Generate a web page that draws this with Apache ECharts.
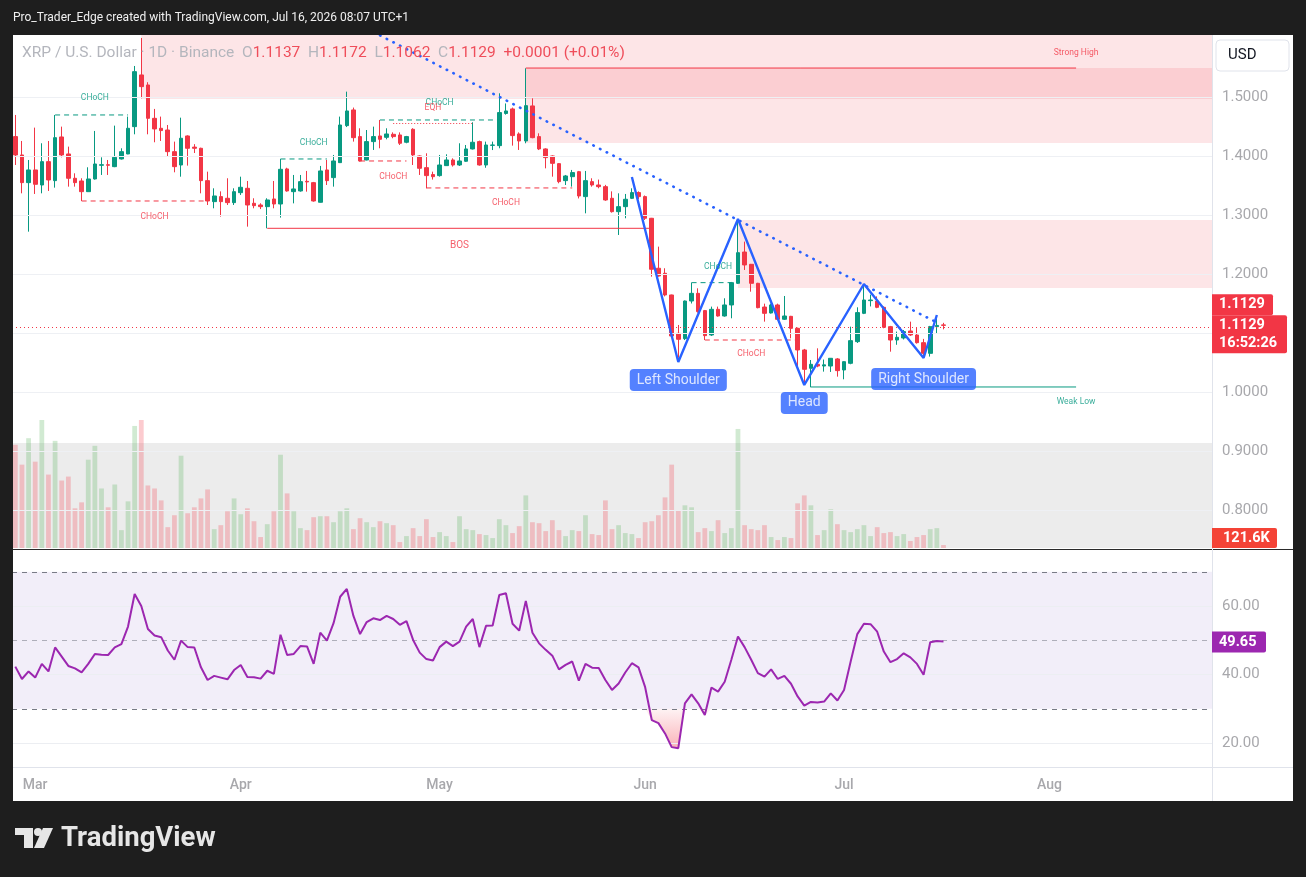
<!DOCTYPE html>
<html><head><meta charset="utf-8">
<script src="https://cdn.jsdelivr.net/npm/echarts@6/dist/echarts.min.js"></script>
<style>html,body{margin:0;padding:0;background:#1e1e1e}#c{width:1306px;height:877px}</style>
</head><body><div id="c"></div>
<script>
// ---------- DATA ----------
const firstDay = '2026-02-26';
const slotCount = 181;
const opens = [1.4328,1.4017,1.3548,1.3763,1.3508,1.3904,1.3582,1.4322,1.4034,1.3622,
1.3576,1.3395,1.3610,1.3842,1.3852,1.3819,1.3949,1.4034,1.4497,1.5373,
1.5203,1.4638,1.4469,1.4440,1.4073,1.3847,1.4339,1.4150,1.4130,1.3582,
1.3226,1.3311,1.3283,1.3209,1.3378,1.3452,1.3198,1.3169,1.3141,1.3271,
1.3186,1.3780,1.3395,1.3407,1.3570,1.3548,1.3215,1.3763,1.3633,1.3887,
1.4514,1.4780,1.4328,1.3932,1.4243,1.4339,1.4316,1.4367,1.4356,1.4232,
1.4452,1.4000,1.3802,1.3685,1.3667,1.3836,1.3932,1.3847,1.3910,1.4119,
1.4243,1.3847,1.4180,1.4175,1.4720,1.4797,1.4373,1.4254,1.4848,1.4328,
1.4119,1.4000,1.3870,1.3582,1.3649,1.3734,1.3311,1.3565,1.3508,1.3480,
1.3283,1.3056,1.3141,1.3282,1.3379,1.3311,1.2944,1.2097,1.2012,1.1644,
1.0994,1.0904,1.1542,1.1672,1.1379,1.0966,1.1401,1.1288,1.1475,1.1842,
1.2372,1.2164,1.1842,1.1440,1.1339,1.1475,1.1232,1.1282,1.1079,1.0712,
1.0401,1.0469,1.0440,1.0440,1.0560,1.0373,1.0486,1.0853,1.1333,1.1548,
1.1540,1.1435,1.1107,1.0881,1.0915,1.1034,1.0966,1.0836,1.0655,1.1107,
1.1137];
const highs = [1.4695,1.4254,1.3932,1.4480,1.4215,1.4254,1.4695,1.4497,1.4158,1.3706,
1.3622,1.3808,1.4424,1.3977,1.3932,1.4514,1.4130,1.4667,1.5525,1.6000,
1.5250,1.4797,1.4667,1.4525,1.4243,1.4649,1.4350,1.4200,1.4140,1.3734,
1.3452,1.3400,1.3622,1.3452,1.3649,1.3576,1.3283,1.3198,1.3283,1.3576,
1.3949,1.3800,1.3678,1.3678,1.3746,1.3560,1.3831,1.3932,1.4017,1.4667,
1.5090,1.4820,1.4469,1.4440,1.4497,1.4610,1.4469,1.4400,1.4400,1.4340,
1.4470,1.4010,1.4045,1.3734,1.4017,1.4028,1.3960,1.4215,1.4186,1.4571,
1.4260,1.4243,1.4243,1.5062,1.4890,1.4820,1.4400,1.5486,1.4977,1.4384,
1.4130,1.4010,1.3880,1.3678,1.3763,1.3746,1.3746,1.3622,1.3600,1.3510,
1.3400,1.3367,1.3356,1.3452,1.3400,1.3330,1.2950,1.2463,1.2097,1.1650,
1.1136,1.1550,1.1853,1.1757,1.1390,1.1447,1.1447,1.1588,1.1865,1.2915,
1.2548,1.2170,1.1850,1.1497,1.1497,1.1497,1.1627,1.1290,1.1090,1.0730,
1.0542,1.0740,1.0550,1.0575,1.0575,1.0520,1.1107,1.1435,1.1814,1.1650,
1.1620,1.1450,1.1120,1.1023,1.1050,1.1192,1.1100,1.0900,1.1120,1.1305,
1.1172];
const lows = [1.3847,1.3367,1.2717,1.3356,1.3367,1.3407,1.3463,1.3977,1.3480,1.3480,
1.3237,1.3390,1.3600,1.3678,1.3678,1.3810,1.3940,1.4030,1.4367,1.4977,
1.4367,1.4232,1.4254,1.3989,1.3723,1.3649,1.3836,1.4050,1.3367,1.3169,
1.3113,1.2972,1.3169,1.3169,1.3339,1.2802,1.3113,1.3100,1.2774,1.3113,
1.2955,1.3395,1.3197,1.3395,1.3395,1.3226,1.3210,1.3508,1.3480,1.3880,
1.4490,1.4243,1.3904,1.3925,1.4102,1.4130,1.4282,1.4300,1.4186,1.4215,
1.3847,1.3678,1.3452,1.3600,1.3650,1.3830,1.3820,1.3830,1.3900,1.4110,
1.3836,1.3800,1.4100,1.4130,1.4700,1.4175,1.4102,1.4215,1.4300,1.4100,
1.3790,1.3649,1.3537,1.3508,1.3480,1.3280,1.3028,1.3480,1.3452,1.3240,
1.3040,1.2661,1.2944,1.3270,1.3270,1.2915,1.1955,1.1955,1.1620,1.0940,
1.0580,1.0880,1.1500,1.1345,1.0881,1.0950,1.1277,1.1277,1.1249,1.1830,
1.2068,1.1700,1.1418,1.1192,1.1330,1.1220,1.1220,1.0910,1.0401,1.0119,
1.0080,1.0420,1.0345,1.0340,1.0260,1.0215,1.0470,1.0830,1.1320,1.1450,
1.1420,1.1080,1.0683,1.0800,1.0890,1.0950,1.0820,1.0599,1.0600,1.0994,
1.1062];
const closes = [1.4017,1.3548,1.3763,1.3520,1.3904,1.3593,1.4310,1.4017,1.3622,1.3548,
1.3395,1.3610,1.3864,1.3852,1.3842,1.3977,1.4073,1.4469,1.5429,1.5175,
1.4638,1.4458,1.4430,1.4073,1.3819,1.4300,1.4130,1.4130,1.3582,1.3237,
1.3322,1.3226,1.3209,1.3395,1.3469,1.3169,1.3158,1.3141,1.3254,1.3186,
1.3774,1.3407,1.3441,1.3565,1.3560,1.3237,1.3746,1.3582,1.3915,1.4525,
1.4763,1.4310,1.3915,1.4243,1.4328,1.4282,1.4373,1.4328,1.4215,1.4328,
1.4017,1.3791,1.3667,1.3649,1.3847,1.3932,1.3847,1.3915,1.4119,1.4232,
1.3847,1.4186,1.4186,1.4735,1.4763,1.4345,1.4254,1.4853,1.4310,1.4119,
1.3972,1.3875,1.3565,1.3661,1.3718,1.3322,1.3582,1.3508,1.3480,1.3254,
1.3056,1.3141,1.3266,1.3379,1.3311,1.2944,1.2080,1.1966,1.1644,1.0949,
1.0893,1.1542,1.1672,1.1362,1.0955,1.1401,1.1288,1.1475,1.1853,1.2361,
1.2153,1.1842,1.1429,1.1333,1.1475,1.1232,1.1288,1.1079,1.0712,1.0384,
1.0469,1.0440,1.0460,1.0571,1.0362,1.0514,1.0870,1.1345,1.1559,1.1559,
1.1435,1.1096,1.0881,1.0927,1.1023,1.0966,1.0836,1.0655,1.1107,1.1128,
1.1129];
// volume in thousands
const volumes = [4212,3402,4482,3524,5225,2997,4374,2754,2916,1620,
1863,3605,4172,2430,1661,2592,729,1904,4982,5225,
2552,2430,1944,851,1337,3767,1418,1661,2025,2390,
770,932,1499,2025,1377,1620,1094,446,972,1499,
3807,2228,1499,810,729,1256,1296,1296,1053,1499,
1620,770,1215,1053,851,1094,1013,932,243,486,
810,486,1175,446,648,486,243,1296,770,729,
567,527,405,1175,932,608,891,2147,1053,1013,
689,1134,729,486,729,689,1337,567,527,1944,
770,932,608,567,405,1053,1094,1337,2066,3402,
1539,1742,1661,648,810,689,1134,608,810,4860,
932,770,729,932,446,324,446,405,1823,2147,
1742,527,729,1580,972,729,648,770,932,486,
851,608,648,486,567,284,446,527,770,810,
121.6];
const rsiValues = [42.3,38.7,40.9,39.1,43.1,40.9,47.9,45.2,42.5,41.8,
40.6,43.1,46.0,45.8,45.7,47.9,48.9,54.0,63.5,60.0,
53.3,51.4,50.9,47.0,44.3,49.9,48.0,47.9,42.1,38.4,
39.6,39.1,38.6,41.3,42.8,39.3,39.2,38.8,41.1,40.2,
51.6,45.7,46.0,48.3,48.2,43.1,52.2,49.9,55.0,62.7,
65.0,57.1,51.8,55.3,56.4,55.9,57.1,56.2,54.5,55.6,
50.1,46.4,44.5,44.1,48.0,49.6,48.3,49.6,54.0,56.2,
48.0,54.2,54.3,63.2,63.7,54.8,52.8,61.5,52.2,49.1,
47.2,45.5,41.5,42.8,43.8,38.2,43.1,42.0,41.9,38.4,
35.5,37.4,40.6,43.3,42.1,36.3,26.7,25.8,22.8,18.8,
18.5,31.6,34.2,31.6,28.2,36.2,35.0,37.9,44.3,51.1,
48.0,44.3,40.4,39.4,41.5,38.7,39.6,37.3,33.6,30.9,
32.0,31.8,32.1,34.5,32.4,35.5,43.8,51.8,54.8,54.7,
52.5,46.7,43.6,44.5,46.2,45.0,43.1,39.9,49.4,49.8,
49.65];
const priceTicks = [0.8,0.9,1.0,1.1,1.2,1.3,1.4,1.5];
const rsiTicks = [20,40,60];
const rsiBands = [30,50,70];
const monthNames = {'03':'Mar','04':'Apr','05':'May','06':'Jun','07':'Jul','08':'Aug'};
// supply / demand zones (bar index where they start, price bounds)
const zones = [
  {from:19, top:1.605, bottom:1.4966},
  {from:77, top:1.549, bottom:1.422},
  {from:109, top:1.2915, bottom:1.1763}
];
// market structure lines
const structureLines = [
  {from:6, to:17, price:1.4695, kind:'bull'},
  {from:10, to:29, price:1.3237, kind:'bear'},
  {from:38, to:96, price:1.2774, kind:'bos'},
  {from:40, to:47, price:1.3949, kind:'bull'},
  {from:52, to:59, price:1.3915, kind:'bear'},
  {from:55, to:73, price:1.461, kind:'bull'},
  {from:57, to:69, price:1.455, kind:'eqh'},
  {from:62, to:84, price:1.3458, kind:'bear'},
  {from:102, to:108, price:1.1853, kind:'bull'},
  {from:104, to:118, price:1.0881, kind:'bear'},
  {from:120, to:160, price:1.0085, kind:'weak'},
  {from:77, to:160, price:1.549, kind:'strong'}
];
const structureLabels = [
  {text:'CHoCH', bar:12, price:1.4983, kind:'bull'},
  {text:'CHoCH', bar:21, price:1.2966, kind:'bear'},
  {text:'BOS', bar:67, price:1.2475, kind:'bos'},
  {text:'CHoCH', bar:45, price:1.422, kind:'bull'},
  {text:'CHoCH', bar:57, price:1.3644, kind:'bear'},
  {text:'CHoCH', bar:64, price:1.4898, kind:'bull'},
  {text:'EQH', bar:63, price:1.4814, kind:'eqh'},
  {text:'CHoCH', bar:74, price:1.3203, kind:'bear'},
  {text:'CHoCH', bar:106, price:1.2119, kind:'bull'},
  {text:'CHoCH', bar:111, price:1.0644, kind:'bear'},
  {text:'Strong High', bar:160, price:1.5746, kind:'strong'},
  {text:'Weak Low', bar:160, price:0.9831, kind:'weak'}
];
const hsPoints = [[93,1.3644],[100,1.0508],[109,1.2932],[119,1.0119],[128,1.183],[137,1.0576],[139,1.1305]];
const hsLabels = [
  {text:'Left Shoulder', bar:100, price:1.0203},
  {text:'Head', bar:119, price:0.9814},
  {text:'Right Shoulder', bar:137, price:1.022}
];
const trendPoints = [[53,1.616],[139,1.1177]];
const symbolTitle = 'XRP / U.S. Dollar · 1D · Binance';
const countdown = '16:52:26';
const volumeLabel = '121.6K';
const headerText = 'Pro_Trader_Edge created with TradingView.com, Jul 16, 2026 08:07 UTC+1';

// ---------- BUILD ----------
const cats = [];
{
  const p = firstDay.split('-').map(Number);
  for (let i = 0; i < slotCount; i++) {
    const d = new Date(Date.UTC(p[0], p[1]-1, p[2]+i));
    cats.push(d.toISOString().slice(0,10));
  }
}
const GREEN = '#089981', RED = '#f23645', BLUE = '#2962ff', PURPLE = '#9c27b0';
const FONT = 'Roboto, "Noto Sans", sans-serif';
const AXIS_TXT = '#a8a8ac';
const n = closes.length;
const last = n - 1;
const candleData = opens.map((o,i)=>[o, closes[i], lows[i], highs[i]]);
const volData = volumes.map((v,i)=>({value:v, itemStyle:{color: closes[i] >= opens[i] ? 'rgba(76,175,80,0.26)' : 'rgba(242,54,69,0.26)'}}));

const kindStyle = {
  bull: {color:GREEN, type:[5,4], width:1, font:8.5},
  bear: {color:RED, type:[5,4], width:1, font:8.5},
  bos: {color:RED, type:'solid', width:1, font:10},
  eqh: {color:RED, type:[1,2], width:1, font:8.5},
  weak: {color:GREEN, type:'solid', width:1, font:8.5},
  strong: {color:RED, type:'solid', width:1, font:8.5}
};

const series = [];
// zones + price grid lines (behind)
series.push({
  type:'line', xAxisIndex:0, yAxisIndex:0, data:[], z:0, silent:true,
  markArea:{silent:true, itemStyle:{color:'rgba(242,54,69,0.13)'},
    data: zones.map(zn => [{xAxis:cats[zn.from], yAxis:zn.top},{yAxis:zn.bottom}])},
  markLine:{silent:true, symbol:'none', label:{show:false}, lineStyle:{color:'#eef0f4', type:'solid', width:1},
    data: priceTicks.map(v=>({yAxis:v}))}
});
// volume band + bars
series.push({
  type:'line', xAxisIndex:1, yAxisIndex:1, data:[], z:0, silent:true,
  markArea:{silent:true, itemStyle:{color:'rgba(0,0,0,0.075)'}, data:[[{yAxis:0},{yAxis:4286}]]}
});
series.push({type:'bar', xAxisIndex:1, yAxisIndex:1, data:volData, barWidth:'72%', z:1, silent:true});
// candles
series.push({
  type:'candlestick', xAxisIndex:0, yAxisIndex:0, data:candleData, z:3, barWidth:'62%',
  itemStyle:{color:GREEN, color0:RED, borderColor:GREEN, borderColor0:RED, borderWidth:1},
  markLine:{silent:true, symbol:'none', label:{show:false}, lineStyle:{color:RED, type:[1,3], width:1},
    data:[{yAxis:closes[last]}]}
});
// structure lines
structureLines.forEach(l => {
  const st = kindStyle[l.kind];
  series.push({type:'line', xAxisIndex:0, yAxisIndex:0, z:4, silent:true, symbol:'none',
    lineStyle:{color:st.color, type:st.type, width:st.width},
    data:[[cats[l.from], l.price],[cats[l.to], l.price]]});
});
// trendline (dotted)
series.push({type:'line', xAxisIndex:0, yAxisIndex:0, z:5, silent:true, symbol:'none', clip:true,
  lineStyle:{color:BLUE, type:[0.5,7], width:2.6, cap:'round'},
  data: trendPoints.map(p=>[cats[p[0]], p[1]])});
// head & shoulders zigzag
series.push({type:'line', xAxisIndex:0, yAxisIndex:0, z:6, silent:true, symbol:'none',
  lineStyle:{color:BLUE, width:2.4},
  data: hsPoints.map(p=>[cats[p[0]], p[1]])});
// structure labels
series.push({type:'scatter', xAxisIndex:0, yAxisIndex:0, z:7, silent:true, symbolSize:1,
  itemStyle:{color:'rgba(0,0,0,0)'},
  data: structureLabels.map(l => ({value:[cats[l.bar], l.price],
    label:{show:true, position:'inside', formatter:l.text, color:kindStyle[l.kind].color,
      fontSize:kindStyle[l.kind].font, fontFamily:FONT}}))});
// pattern labels
series.push({type:'scatter', xAxisIndex:0, yAxisIndex:0, z:8, silent:true, symbolSize:1,
  itemStyle:{color:'rgba(0,0,0,0)'},
  label:{show:true, position:'inside', color:'#ffffff', fontSize:14, fontFamily:FONT,
    backgroundColor:BLUE, borderRadius:4, padding:[4,7], lineHeight:14},
  data: hsLabels.map(l => ({value:[cats[l.bar], l.price], label:{formatter:l.text}}))});
// RSI band
series.push({type:'line', xAxisIndex:2, yAxisIndex:2, data:[], z:0, silent:true,
  markArea:{silent:true, itemStyle:{color:'rgba(126,87,194,0.1)'}, data:[[{yAxis:rsiBands[0]},{yAxis:rsiBands[2]}]]},
  markLine:{silent:true, symbol:'none', label:{show:false},
    data:[
      ...rsiTicks.map(v=>({yAxis:v, lineStyle:{color:'#eceef2', type:'solid', width:1}})),
      {yAxis:rsiBands[0], lineStyle:{color:'#787b86', type:[5,5], width:1}},
      {yAxis:rsiBands[1], lineStyle:{color:'rgba(120,123,134,0.55)', type:[5,5], width:1}},
      {yAxis:rsiBands[2], lineStyle:{color:'#787b86', type:[5,5], width:1}}
    ]}
});
// oversold fill (stacked between RSI and 30)
const osBase = rsiValues.map((v,i)=>{
  const near = v < 30 || (i>0 && rsiValues[i-1] < 30) || (i<n-1 && rsiValues[i+1] < 30);
  return near ? Math.min(v, 30) : '-';
});
const osFill = osBase.map(v => v === '-' ? '-' : +(30 - v).toFixed(2));
series.push({type:'line', xAxisIndex:2, yAxisIndex:2, data:osBase, stack:'os', symbol:'none', silent:true, z:1,
  lineStyle:{opacity:0, width:0}});
series.push({type:'line', xAxisIndex:2, yAxisIndex:2, data:osFill, stack:'os', symbol:'none', silent:true, z:1,
  lineStyle:{opacity:0, width:0},
  areaStyle:{opacity:1, color:new echarts.graphic.LinearGradient(0,0,0,1,[
    {offset:0, color:'rgba(242,54,69,0.06)'},{offset:1, color:'rgba(242,54,69,0.38)'}])}});
// RSI line
series.push({type:'line', xAxisIndex:2, yAxisIndex:2, data:rsiValues, symbol:'none', silent:true, z:5,
  lineStyle:{color:PURPLE, width:2}});

const gridL = 12, gridR = 94;
const option = {
  backgroundColor:'#ffffff',
  animation:false,
  textStyle:{fontFamily:FONT},
  grid:[
    {left:gridL, right:gridR, top:35, bottom:329, outerBoundsMode:'none'},
    {left:gridL, right:gridR, top:420, bottom:329, outerBoundsMode:'none'},
    {left:gridL, right:gridR, top:550, bottom:110, outerBoundsMode:'none'}
  ],
  xAxis:[
    {type:'category', gridIndex:0, data:cats, boundaryGap:true, axisLine:{show:false}, axisTick:{show:false}, axisLabel:{show:false}, splitLine:{show:false}},
    {type:'category', gridIndex:1, data:cats, boundaryGap:true, axisLine:{show:false}, axisTick:{show:false}, axisLabel:{show:false}, splitLine:{show:false}},
    {type:'category', gridIndex:2, data:cats, boundaryGap:true, axisLine:{show:false}, axisTick:{show:false}, splitLine:{show:false},
      axisLabel:{show:true, margin:11, color:AXIS_TXT, fontSize:14, fontFamily:FONT, fontWeight:500,
        interval:(idx, val) => val.slice(8) === '01' && !!monthNames[val.slice(5,7)],
        formatter:(val) => monthNames[val.slice(5,7)] || ''}}
  ],
  yAxis:[
    {type:'value', gridIndex:0, position:'right', min:0.7356, max:1.605, scale:true,
      axisLine:{show:false}, axisTick:{show:false}, splitLine:{show:false},
      axisLabel:{show:true, customValues:priceTicks, margin:10, color:AXIS_TXT, fontSize:15, fontFamily:FONT,
        verticalAlign:'middle', lineHeight:15, formatter:(v)=>Number(v).toFixed(4)}},
    {type:'value', gridIndex:1, min:0, max:5225, show:false, splitLine:{show:false}},
    {type:'value', gridIndex:2, position:'right', min:13.0, max:76.35,
      axisLine:{show:false}, axisTick:{show:false}, splitLine:{show:false},
      axisLabel:{show:true, customValues:rsiTicks, margin:10, color:AXIS_TXT, fontSize:15, fontFamily:FONT,
        verticalAlign:'middle', lineHeight:15, formatter:(v)=>Number(v).toFixed(2)}}
  ],
  series
};

const chart = echarts.init(document.getElementById('c'), null, {width:1306, height:877});
chart.setOption(option);

// ---------- chrome + axis badges ----------
const pyLast = chart.convertToPixel({yAxisIndex:0}, closes[last]);
let pyVol = chart.convertToPixel({yAxisIndex:1}, volumes[last]);
pyVol = Math.min(pyVol, 548 - 10);
const pyRsi = chart.convertToPixel({yAxisIndex:2}, rsiValues[last]);
const axX = 1306 - gridR;
const fmt = v => v.toFixed(4);
const prevClose = closes[last-1];
const chg = closes[last] - prevClose;
const chgTxt = (chg >= 0 ? '+' : '') + chg.toFixed(4) + ' (' + (chg >= 0 ? '+' : '') + (chg/prevClose*100).toFixed(2) + '%)';

function txt(x, y, text, o) {
  return Object.assign({type:'text', x:x, y:y, silent:true, z:o.z||50,
    style:Object.assign({text:text, fill:o.fill||'#fff', font:o.font, align:o.align||'left', textAlign:o.align||'left',
      verticalAlign:'middle', textVerticalAlign:'middle'}, o.style||{})});
}
const graphics = [
  // dark frame
  {type:'rect', shape:{x:0,y:0,width:1306,height:35}, style:{fill:'#1e1e1e'}, z:90, silent:true},
  {type:'rect', shape:{x:0,y:801,width:1306,height:76}, style:{fill:'#1e1e1e'}, z:90, silent:true},
  {type:'rect', shape:{x:0,y:0,width:13,height:877}, style:{fill:'#1e1e1e'}, z:90, silent:true},
  {type:'rect', shape:{x:1293,y:0,width:13,height:877}, style:{fill:'#1e1e1e'}, z:90, silent:true},
  txt(13, 18, headerText, {font:'12px ' + FONT, fill:'#f0f0f0', z:95}),
  // TradingView logo
  {type:'rect', shape:{x:15,y:828,width:18,height:7}, style:{fill:'#e6e6e6'}, z:95, silent:true},
  {type:'rect', shape:{x:24,y:828,width:9,height:20}, style:{fill:'#e6e6e6'}, z:95, silent:true},
  {type:'circle', shape:{cx:38,cy:832,r:4}, style:{fill:'#e6e6e6'}, z:95, silent:true},
  {type:'polygon', shape:{points:[[43,828],[53,828],[44,848],[34,848]]}, style:{fill:'#e6e6e6'}, z:95, silent:true},
  txt(61, 839, 'TradingView', {font:'bold 27.5px ' + FONT, fill:'#e6e6e6', z:95}),
  // pane separators
  {type:'line', shape:{x1:13,y1:549.5,x2:1293,y2:549.5}, style:{stroke:'#2a2a2a', lineWidth:1}, z:40, silent:true},
  {type:'line', shape:{x1:axX+0.5,y1:35,x2:axX+0.5,y2:801}, style:{stroke:'#e0e3eb', lineWidth:1}, z:40, silent:true},
  {type:'line', shape:{x1:13,y1:767.5,x2:1293,y2:767.5}, style:{stroke:'#e0e3eb', lineWidth:1}, z:40, silent:true},
  // USD box
  {type:'rect', shape:{x:axX+4,y:40,width:73,height:31,r:4}, style:{fill:'#ffffff', stroke:'#e0e3eb', lineWidth:1}, z:45, silent:true},
  txt(axX+16, 55.5, 'USD', {font:'15px ' + FONT, fill:'#131722', z:46}),
  // legend line
  {type:'text', x:22, y:53, silent:true, z:50, style:{
    text:'{t|' + symbolTitle + '}  {k|O}{v|' + fmt(opens[last]) + '}  {k|H}{v|' + fmt(highs[last]) + '}  {k|L}{v|' + fmt(lows[last]) + '}  {k|C}{v|' + fmt(closes[last]) + '}  {v|' + chgTxt + '}',
    verticalAlign:'middle', textVerticalAlign:'middle', font:'15.5px ' + FONT,
    rich:{t:{fill:'#b4b6bd', fontSize:15.5, fontFamily:FONT},
          k:{fill:'#b4b6bd', fontSize:15.5, fontFamily:FONT},
          v:{fill:'#ef4d5a', fontSize:15.5, fontFamily:FONT}}}},
  // price badges
  {type:'rect', shape:{x:axX,y:pyLast-31,width:61,height:21,r:[0,2,2,0]}, style:{fill:RED}, z:60, silent:true},
  txt(axX+7, pyLast-20.5, fmt(closes[last]), {font:'bold 14.5px ' + FONT, fill:'#fff', z:61}),
  {type:'rect', shape:{x:axX,y:pyLast-10,width:75,height:38,r:[0,2,2,0]}, style:{fill:RED}, z:60, silent:true},
  txt(axX+7, pyLast, fmt(closes[last]), {font:'bold 14.5px ' + FONT, fill:'#fff', z:61}),
  txt(axX+7, pyLast+18, countdown, {font:'bold 14.5px ' + FONT, fill:'#fff', z:61}),
  // volume badge
  {type:'rect', shape:{x:axX,y:pyVol-10,width:65,height:20,r:[0,2,2,0]}, style:{fill:'#f44336'}, z:60, silent:true},
  txt(axX+11, pyVol, volumeLabel, {font:'bold 14.5px ' + FONT, fill:'#fff', z:61}),
  // RSI badge
  {type:'rect', shape:{x:axX,y:pyRsi-10,width:54,height:21,r:[0,2,2,0]}, style:{fill:PURPLE}, z:60, silent:true},
  txt(axX+7, pyRsi+0.5, rsiValues[last].toFixed(2), {font:'bold 14.5px ' + FONT, fill:'#fff', z:61})
];
chart.setOption({graphic:graphics});
</script>
</body></html>
